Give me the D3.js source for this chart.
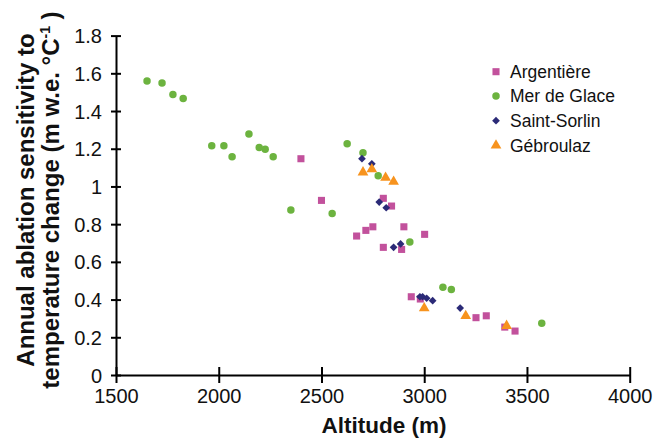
<!DOCTYPE html>
<html><head><meta charset="utf-8">
<script src="https://cdn.jsdelivr.net/npm/d3@7"></script>
<style>body{margin:0;background:#fff}svg{display:block}text{font-family:"Liberation Sans",Arial,sans-serif}</style>
</head><body>
<script>
const seriesNames = ["Argentière","Mer de Glace","Saint-Sorlin","Gébroulaz"];
const argentiereAlt = [2400,2500,2671,2716,2750,2801,2841,2801,2890,2901,3002,2937,2981,3252,3302,3392,3442];
const argentiereVal = [1.147,0.926,0.737,0.767,0.786,0.937,0.896,0.677,0.666,0.786,0.746,0.415,0.403,0.304,0.314,0.254,0.233];
const merAlt = [1651,1724,1777,1827,1966,2025,2065,2147,2197,2226,2265,2351,2552,2625,2702,2776,2930,3091,3132,3572];
const merVal = [1.559,1.548,1.488,1.467,1.216,1.216,1.158,1.278,1.207,1.197,1.158,0.875,0.857,1.226,1.179,1.057,0.705,0.465,0.454,0.274];
const sorlinAlt = [2697,2745,2781,2815,2851,2885,2979,2992,3012,3041,3175];
const sorlinVal = [1.147,1.120,0.917,0.887,0.677,0.695,0.415,0.415,0.407,0.394,0.355];
const gebAlt = [2702,2745,2812,2851,3000,3202,3401];
const gebVal = [1.075,1.092,1.046,1.025,0.354,0.313,0.261];
const xTicks = [1500,2000,2500,3000,3500,4000];
const yTicks = [0,0.2,0.4,0.6,0.8,1,1.2,1.4,1.6,1.8];

const colors = ["#c2519c","#6cb33f","#2b2a77","#f7931e"];
const symbols = [d3.symbolSquare, d3.symbolCircle, d3.symbolDiamond2, d3.symbolTriangle];
const sizes = [50, 44, 38, 50];

const W = 655, H = 441;
const svg = d3.select("body").append("svg").attr("width", W).attr("height", H);
const x = d3.scaleLinear().domain([1500,4000]).range([116, 629.7]);
const y = d3.scaleLinear().domain([0,1.8]).range([375, 35.6]);

// axes
const gx = svg.append("g").attr("transform", `translate(0,${y(0)})`)
  .call(d3.axisBottom(x).tickValues(xTicks).tickFormat(d3.format("d")).tickSize(8).tickSizeOuter(0));
gx.select(".domain").attr("stroke","#000").attr("stroke-width",2);
gx.selectAll(".tick line").attr("y1",-8).attr("y2",8).attr("stroke","#000").attr("stroke-width",2);
gx.selectAll(".tick text").attr("y",14).attr("dy","0.71em").attr("font-size",20).attr("fill","#111")
  .style("font-family",'"Liberation Sans",Arial,sans-serif');

const gy = svg.append("g").attr("transform", `translate(${x(1500)},0)`)
  .call(d3.axisLeft(y).tickValues(yTicks).tickFormat(d => d === 0 || d === 1 ? String(d) : d3.format(".1f")(d)).tickSize(5).tickSizeOuter(0));
gy.select(".domain").attr("stroke","#000").attr("stroke-width",2);
gy.selectAll(".tick line").attr("x1",-5).attr("x2",5).attr("stroke","#000").attr("stroke-width",2);
gy.selectAll(".tick text").attr("x",-14).attr("dy","0.35em").attr("font-size",20).attr("fill","#111")
  .style("font-family",'"Liberation Sans",Arial,sans-serif');

// titles
svg.append("text").attr("x",384).attr("y",433).attr("text-anchor","middle")
  .attr("font-size",22.5).attr("font-weight","bold").attr("fill","#111").text("Altitude (m)");
const yt = svg.append("text").attr("transform","translate(0,200) rotate(-90)")
  .attr("text-anchor","middle").attr("font-size",24).attr("font-weight","bold").attr("fill","#111");
yt.append("tspan").attr("x",0).attr("y",34).text("Annual ablation sensitivity to");
const l2 = yt.append("tspan").attr("x",0).attr("y",58.5);
l2.text("temperature change (m w.e. °C");
yt.append("tspan").attr("font-size",14).attr("dy",-9).text("-1");
yt.append("tspan").attr("dy",9).text(" )");

// data points
const series = [
  {alt: argentiereAlt, val: argentiereVal},
  {alt: merAlt, val: merVal},
  {alt: sorlinAlt, val: sorlinVal},
  {alt: gebAlt, val: gebVal}
];
series.forEach((s, i) => {
  const pts = s.alt.map((a, j) => [a, s.val[j]]);
  svg.append("g").selectAll("path").data(pts).join("path")
    .attr("d", d3.symbol().type(symbols[i]).size(sizes[i]))
    .attr("transform", d => `translate(${x(d[0])},${y(d[1])})`)
    .attr("fill", colors[i]);
});

// legend
const legY = [71.7, 95.9, 120.7, 145.5];
seriesNames.forEach((n, i) => {
  svg.append("path").attr("d", d3.symbol().type(symbols[i]).size(sizes[i]))
    .attr("transform", `translate(496,${legY[i]})`).attr("fill", colors[i]);
  svg.append("text").attr("x",510).attr("y",legY[i]).attr("dy","0.35em")
    .attr("font-size",17.5).attr("fill","#111").text(n);
});
</script>
</body></html>
